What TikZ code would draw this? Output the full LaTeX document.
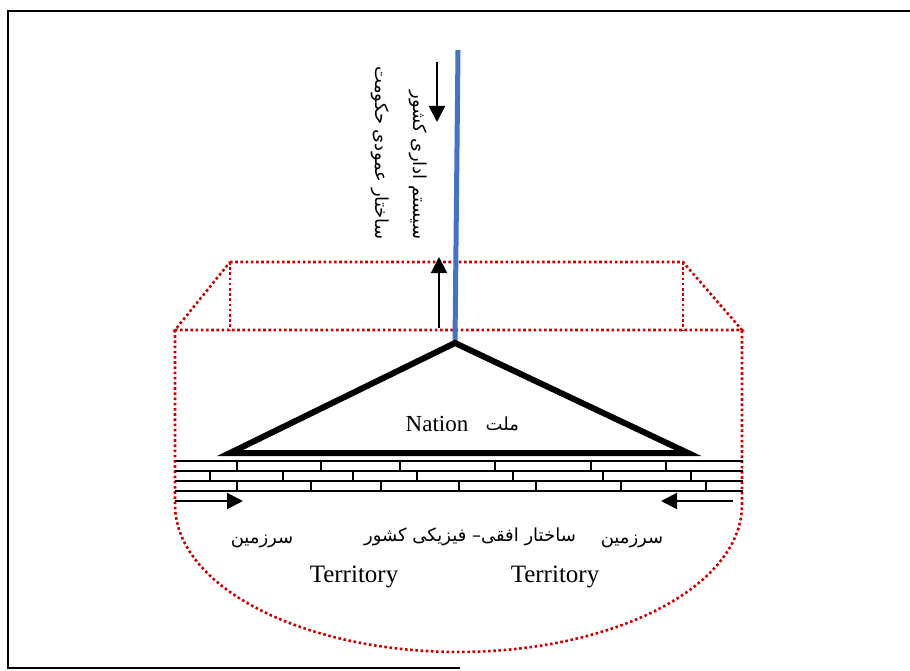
\documentclass[tikz,border=0pt]{standalone}
\usepackage{fontspec}
\setmainfont{Liberation Serif}
\newfontfamily\fafont[Script=Arabic]{DejaVu Sans}
\TeXXeTstate=1
\usetikzlibrary{arrows.meta,positioning}
\definecolor{dotred}{RGB}{204,0,0}
\definecolor{poleblue}{RGB}{68,114,196}

\begin{document}
\begin{tikzpicture}[
            x = 1pt, y = -1pt, % pixel grid, y runs downwards
            > = {Triangle[length=16pt,width=16pt]}, % arrow head style
            zone/.style = {dotred, line width=2.6pt, dash pattern=on 2.6pt off 2.6pt},
            brick/.style = {line width=1.3pt},
            push/.style = {->, line width=2pt},
            fa/.style = {font=\fafont\fontsize{18}{21}\selectfont, inner sep=0pt},
            en/.style = {font=\fontsize{25}{29}\selectfont, inner sep=0pt}
        ]
	\useasboundingbox (0,0) rectangle (910,671);

	% frame
	\draw[line width=1.6pt] (910,11) -- (8,11) -- (8,668) -- (460,668);

	% dotted zone
	\coordinate (zTL) at (230,262);
	\coordinate (zTR) at (683,262);
	\coordinate (zML) at (175,330);
	\coordinate (zMR) at (742,330);
	\draw[zone] (zTL) -- (zTR) -- (zMR) -- (zML) -- cycle;
	\draw[zone] (zTL) -- (zTL |- zML);
	\draw[zone] (zTR) -- (zTR |- zMR);
	\draw[zone] (zML) -- (175,505)
		-- plot[domain=180:0, samples=60] ({458.5+283.5*cos(\x)},{505+147*sin(\x)})
		-- (zMR);

	% bricks
	\foreach \y in {461,471,481,491}
		\draw[brick] (175,\y) -- (743,\y);
	\foreach \x in {237,321,400,495,591,666}
		\draw[brick] (\x,461) -- (\x,471);
	\foreach \x in {210,283,353,417,513,603,691}
		\draw[brick] (\x,471) -- (\x,481);
	\foreach \x in {237,311,381,459,536,621,706}
		\draw[brick] (\x,481) -- (\x,491);

	% pole and nation
	\coordinate (poleTop) at (458,50);
	\coordinate (apex) at (455,343);
	\coordinate (baseL) at (230,453);
	\coordinate (baseR) at (688,453);
	\draw[poleblue, line width=5pt] (poleTop) -- (apex);
	\draw[line width=6pt] (apex) -- (baseR) -- (baseL) -- cycle;

	% arrows
	\coordinate (dnA) at (437,62);
	\coordinate (dnB) at (437,122);
	\coordinate (upA) at (439,328);
	\coordinate (upB) at (439,257);
	\coordinate (inLA) at (175,501);
	\coordinate (inLB) at (243,501);
	\coordinate (inRA) at (733,501);
	\coordinate (inRB) at (661,501);
	\draw[push] (dnA) -- (dnB);
	\draw[push] (upA) -- (upB);
	\draw[push] (inLA) -- (inLB);
	\draw[push] (inRA) -- (inRB);

	% labels
	\node[fa, rotate=-90] (sysAdm) at (418,165) {\beginR سیستم اداری کشور\endR};
	\node[fa, rotate=-90] (vertGov) at (380,153) {\beginR ساختار عمودی حکومت\endR};
	\node[en, font=\fontsize{23}{27}\selectfont] (nation) at (437,424) {Nation};
	\node[fa, right=17pt of nation] (mellat) {\beginR ملت\endR};
	\node[fa] (horzFis) at (470,537) {\beginR ساختار افقی– فیزیکی کشور\endR};
	\node[fa] (landL) at (262,542) {\beginR سرزمین\endR};
	\node[fa] (landR) at (632,542) {\beginR سرزمین\endR};
	\node[en] (terrL) at (354,577) {Territory};
	\node[en] (terrR) at (555,577) {Territory};

\end{tikzpicture}
\end{document}
